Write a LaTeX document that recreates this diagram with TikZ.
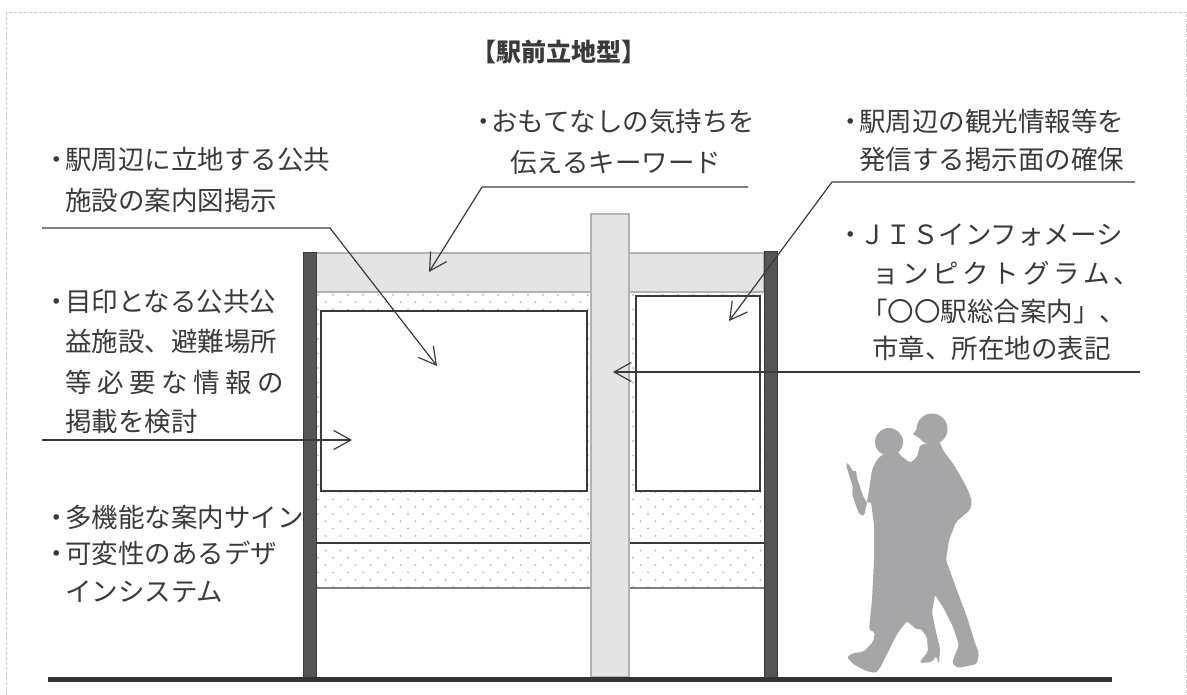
\documentclass[tikz,border=0pt]{standalone}
\usepackage{fontspec}
\setmainfont{Noto Sans CJK JP}
\usetikzlibrary{arrows.meta}

\definecolor{ink}{HTML}{3A3A3A}
\definecolor{postgray}{HTML}{555555}
\definecolor{postedge}{HTML}{3C3C3C}
\definecolor{boardgray}{HTML}{E4E4E4}
\definecolor{edgegray}{HTML}{B2B2B2}
\definecolor{dotgray}{HTML}{BDBDBD}
\definecolor{walkers}{HTML}{A6A6A8}
\definecolor{framegray}{HTML}{C8C8C8}

% stretch a line of characters evenly over a given width
\newcommand{\spreadline}[2]{\makebox[#1][s]{#2}}
% narrow bullet in front of a note
\newcommand{\bul}{\makebox[16pt][c]{・}}

\begin{document}
\begin{tikzpicture}[x=1pt,y=-1pt,
  txt/.style={inner sep=0pt, anchor=west, text=ink,
    font=\fontsize{26.5}{30}\selectfont, text height=23pt, text depth=3pt},
  leader/.style={draw=ink, line width=1.2pt, line join=miter},
  pointer/.style={leader, -{Straight Barb[length=17pt,width=19pt]}},
  board/.style={fill=boardgray, draw=edgegray, line width=1.2pt},
  post/.style={fill=postgray, draw=postedge, line width=1pt},
  panel/.style={fill=white, draw=ink, line width=1.3pt}]

\useasboundingbox (0,0) rectangle (1187,695);
\clip (0,0) rectangle (1187,695);

% outer dashed frame
\draw[framegray, line width=0.8pt, dash pattern=on 3pt off 2pt]
  (6.5,12) rectangle (1186,705);

% title
\node[inner sep=0pt, text=ink, font=\fontsize{25}{28}\bfseries] (title) at (559,52) {【駅前立地型】};

% ---------- sign structure ----------
% dotted band behind the panels
\begin{scope}
  \clip (316,292) rectangle (764,588);
  \foreach \j in {0,...,40} {
    \pgfmathsetmacro{\yy}{295+\j*7.3}
    \pgfmathsetmacro{\xo}{mod(\j,2)*7.5}
    \foreach \i in {0,...,30} {
      \fill[dotgray] ({318+\xo+\i*15},\yy) circle (1.1pt);
    }
  }
\end{scope}
\draw[ink, line width=1.1pt] (310,543) -- (764,543);
\draw[gray, line width=1.2pt] (316,588) -- (764,588);

% header band
\draw[board] (316,253) rectangle (764,292);

% display panels
\draw[panel] (321,311) rectangle (587,491);
\draw[panel] (636,296) rectangle (760,491);

% central column
\draw[board] (591,214) rectangle (629,677);

% side posts
\draw[post] (303,253) rectangle (316,677);
\draw[post] (764,252) rectangle (777,677);

% ground
\draw[line width=5pt, color=black!80] (48,679) -- (1112,679);

% ---------- walking couple ----------
\begin{scope}[fill=walkers]
  \fill (932,429) circle (15.5pt);
  \fill (889,442) circle (14pt);
  \fill (921,424) -- (913,434) -- (921,439) -- cycle;
  \fill[rounded corners=2pt]
    (920,445) -- (917,457) -- (910,463) -- (900,455) -- (897,450)
    -- (880,456) -- (875,463) -- (872,470) -- (869,490) -- (866,508)
    -- (864,516) -- (859,514) -- (855,503) -- (852,494) -- (853,487)
    -- (850,478) -- (847,468) -- (846,463) -- (849,464) -- (853,472)
    -- (856,470) -- (857,478) -- (860,487) -- (863,496) -- (867,503)
    -- (871,502) -- (874,525) -- (874,560) -- (872,600) -- (869,630)
    -- (875,632) -- (873,642) -- (863,652) -- (853,653) -- (847,657)
    -- (853,664) -- (866,671) -- (876,673) -- (880,668) -- (888,652)
    -- (897,634) -- (907,621) -- (917,630) -- (920,628) -- (927,637)
    -- (928,652) -- (921,660) -- (920,663) -- (932,662) -- (936,656)
    -- (939,664) -- (940,648) -- (936,632) -- (932,612) -- (935,595)
    -- (943,607) -- (953,627) -- (959,645) -- (955,655) -- (952,663)
    -- (958,668) -- (977,664) -- (979,653) -- (975,643) -- (967,617)
    -- (955,585) -- (946,560) -- (949,540) -- (956,522) -- (963,516)
    -- (970,510) -- (972,502) -- (968,490) -- (961,477) -- (952,462)
    -- (944,452) -- (939,441) -- cycle;
\end{scope}

% ---------- left notes ----------
\node[txt] (l1a) at (49,160) {\bul 駅周辺に立地する公共};
\node[txt] (l1b) at (65,201) {施設の案内図掲示};
\coordinate (l1s) at (42,228);
\coordinate (l1k) at (330,228);
\coordinate (l1t) at (437,366);
\draw[pointer] (l1s) -- (l1k) -- (l1t);

\node[txt] (l2a) at (49,302) {\bul 目印となる公共公};
\node[txt] (l2b) at (65,342) {益施設、避難場所};
\node[txt] (l2c) at (65,382) {\spreadline{219pt}{等\hfill 必\hfill 要\hfill な\hfill 情\hfill 報\hfill の}};
\node[txt] (l2d) at (65,421) {掲載を検討};
\coordinate (l2s) at (42,440);
\coordinate (l2t) at (352,440);
\draw[pointer] (l2s) -- (l2t);

\node[txt] (l3) at (49,517) {\bul 多機能な案内サイン};
\node[txt] (l4a) at (49,553) {\bul 可変性のあるデザ};
\node[txt] (l4b) at (65,591) {インシステム};

% ---------- centre note ----------
\node[txt] (c1) at (477,122) {\makebox[14pt][c]{・}おもてなしの気持ちを};
\node[txt] (c2) at (510,163) {伝えるキーワード};
\coordinate (cs) at (748,187);
\coordinate (ck) at (482,187);
\coordinate (ct) at (429,272);
\draw[pointer] (cs) -- (ck) -- (ct);

% ---------- right notes ----------
\node[txt] (r1a) at (843,122) {\bul 駅周辺の観光情報等を};
\node[txt] (r1b) at (859,160) {発信する掲示面の確保};
\coordinate (r1s) at (1135,182);
\coordinate (r1k) at (832,182);
\coordinate (r1t) at (729,321);
\draw[pointer] (r1s) -- (r1k) -- (r1t);

\node[txt] (r2a) at (843,235) {\bul ＪＩＳインフォメーシ};
\node[txt] (r2b) at (872,274) {\spreadline{268pt}{ョ\hfill ン\hfill ピ\hfill ク\hfill ト\hfill グ\hfill ラ\hfill ム\hfill 、}};
\node[txt] (r2c) at (861,312) {「〇〇駅総合案内」、};
\node[txt] (r2d) at (872,349) {市章、所在地の表記};
\coordinate (r2s) at (1140,372);
\coordinate (r2t) at (613,372);
\draw[pointer] (r2s) -- (r2t);

\end{tikzpicture}
\end{document}
